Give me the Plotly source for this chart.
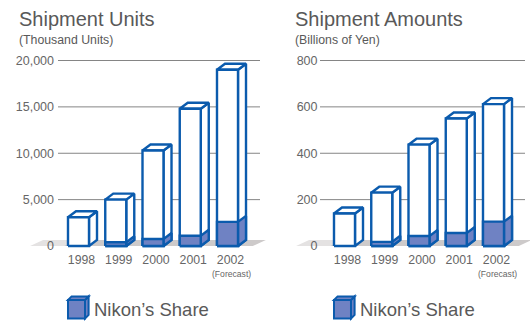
import plotly.graph_objects as go

# ---- data -------------------------------------------------------------
years = ["1998", "1999", "2000", "2001", "2002"]
units_total = [3100, 5000, 10300, 14800, 19000]      # thousand units
units_nikon = [0, 400, 750, 1100, 2600]
amounts_total = [140, 230, 437, 550, 612]             # billions of yen
amounts_nikon = [0, 18, 43, 56, 105]
units_ticks = [0, 5000, 10000, 15000, 20000]
amounts_ticks = [0, 200, 400, 600, 800]

# ---- style ------------------------------------------------------------
W, H = 530, 322
FONT = "Liberation Sans, Arial, sans-serif"
BLUE = "#0b5bad"
LAV = "#6f82c3"
WHITE = "#ffffff"
FLOOR = "#cdcaca"
FLOOR_LIGHT = "#e4e2e2"
GRID = "#858585"
TXT = "#595959"

HALF_W = 0.282          # half width of a bar's front face (category units)
DEPTH_X = 0.215         # horizontal depth of the 3D box (category units)
DEPTH_PX = 6            # vertical depth of the 3D box in pixels
FLOOR_X = (-1.30, 4.68)
FLOOR_SHIFT = 0.35

fig = go.Figure()


def poly(xs, ys, fill, xa, ya, line=True):
    fig.add_trace(go.Scatter(
        x=xs + [xs[0]], y=ys + [ys[0]], mode="lines", fill="toself",
        fillcolor=fill, xaxis=xa, yaxis=ya, hoverinfo="skip",
        line=dict(color=BLUE if line else fill, width=2.4 if line else 0),
        showlegend=False))


def draw_chart(xa, ya, totals, shares, dy):
    # floor slab, fading slightly toward its left end
    f0, f1 = FLOOR_X
    fm = f0 + 0.9
    poly([f0, fm, fm + FLOOR_SHIFT, f0 + FLOOR_SHIFT], [0, 0, dy, dy], FLOOR_LIGHT, xa, ya, line=False)
    poly([fm, f1, f1 + FLOOR_SHIFT, fm + FLOOR_SHIFT], [0, 0, dy, dy], FLOOR, xa, ya, line=False)
    for i, (t, s) in enumerate(zip(totals, shares)):
        x0, x1 = i - HALF_W, i + HALF_W
        poly([x1, x1 + DEPTH_X, x1 + DEPTH_X, x1], [0, dy, t + dy, t], WHITE, xa, ya)
        poly([x0, x1, x1 + DEPTH_X, x0 + DEPTH_X], [t, t, t + dy, t + dy], WHITE, xa, ya)
        poly([x0, x1, x1, x0], [0, 0, t, t], WHITE, xa, ya)
        if s > 0:
            poly([x1, x1 + DEPTH_X, x1 + DEPTH_X, x1], [0, dy, s + dy, s], LAV, xa, ya)
            poly([x0, x1, x1, x0], [0, 0, s, s], LAV, xa, ya)


# vertical scales: value 0 sits at y=246px, top tick at y=60.5px
def y_range(top_val):
    per_px = top_val / (246 - 60.5)
    return [-(H - 246) * per_px, 246 * per_px], per_px


yr1, pp1 = y_range(units_ticks[-1])
yr2, pp2 = y_range(amounts_ticks[-1])

draw_chart("x", "y", units_total, units_nikon, DEPTH_PX * pp1)
draw_chart("x2", "y2", amounts_total, amounts_nikon, DEPTH_PX * pp2)

SPACING = 37.25
x1_c0, x2_c0 = 78.5, 344.5
xr1 = [(0 - x1_c0) / SPACING, (268 - x1_c0) / SPACING]
xr2 = [(270 - x2_c0) / SPACING, (W - x2_c0) / SPACING]

tickfont = dict(family=FONT, size=12.5, color="#666666")
yearfont = dict(family=FONT, size=12.3, color="#666666")

common_x = dict(showgrid=False, zeroline=False, showline=False, ticks="",
                tickmode="array", tickvals=[i + 0.08 for i in range(len(years))],
                ticktext=years, tickfont=yearfont, anchor="free",
                position=1 - 251 / H, fixedrange=True)
common_y = dict(showgrid=False, zeroline=False, showline=False, ticks="",
                tickmode="array", anchor="free", tickfont=tickfont, fixedrange=True,
                domain=[0, 1])

fig.update_layout(
    width=W, height=H, margin=dict(l=0, r=0, t=0, b=0),
    paper_bgcolor="white", plot_bgcolor="rgba(0,0,0,0)",
    xaxis=dict(common_x, domain=[0, 268 / W], range=xr1),
    xaxis2=dict(common_x, domain=[270 / W, 1], range=xr2),
    yaxis=dict(common_y, range=yr1, tickvals=units_ticks,
               ticktext=[f"{v:,}" for v in units_ticks], position=54 / W),
    yaxis2=dict(common_y, range=yr2, tickvals=amounts_ticks,
                ticktext=[str(v) for v in amounts_ticks], position=317.5 / W),
    showlegend=False,
)

# gridlines (the zero line is covered by the floor, so skipped)
grid_spans = [("x", "y", units_ticks, (58 - x1_c0) / SPACING, (260 - x1_c0) / SPACING),
              ("x2", "y2", amounts_ticks, (320 - x2_c0) / SPACING, (525 - x2_c0) / SPACING)]
for xa, ya, ticks, g0, g1 in grid_spans:
    for v in ticks[1:]:
        fig.add_shape(type="line", xref=xa, yref=ya, x0=g0, x1=g1, y0=v, y1=v,
                      line=dict(color=GRID, width=1), layer="below")

# titles
for x_px, title, sub in [(17, "Shipment Units", "(Thousand Units)"),
                         (293, "Shipment Amounts", "(Billions of Yen)")]:
    fig.add_annotation(x=x_px / W, y=1 - 19 / H, xref="paper", yref="paper",
                       text=title, showarrow=False, xanchor="left", yanchor="middle",
                       font=dict(family=FONT, size=20, color=TXT))
    fig.add_annotation(x=x_px / W, y=1 - 40.5 / H, xref="paper", yref="paper",
                       text=sub, showarrow=False, xanchor="left", yanchor="middle",
                       font=dict(family=FONT, size=12.3, color=TXT))

# forecast note under 2002
for xa in ("x", "x2"):
    fig.add_annotation(x=4.1, y=1 - 274 / H, xref=xa, yref="paper",
                       text="(Forecast)", showarrow=False, xanchor="center",
                       yanchor="middle", font=dict(family=FONT, size=8.6, color="#666666"))


# legend: small cube + label
def px(x, y):
    return x / W, 1 - y / H


def path(points):
    pts = [px(*p) for p in points]
    return "M " + " L ".join(f"{a:.5f},{b:.5f}" for a, b in pts) + " Z"


for left in (68, 334):
    fx0, fx1, fy0, fy1, d = left, left + 17, 300, 318.5, 3.6
    for pts in ([(fx1, fy0), (fx1 + d, fy0 - d), (fx1 + d, fy1 - d), (fx1, fy1)],
                [(fx0, fy0), (fx1, fy0), (fx1 + d, fy0 - d), (fx0 + d, fy0 - d)],
                [(fx0, fy0), (fx1, fy0), (fx1, fy1), (fx0, fy1)]):
        fig.add_shape(type="path", xref="paper", yref="paper", path=path(pts),
                      fillcolor=LAV, line=dict(color=BLUE, width=2))
    fig.add_annotation(x=(left + 24) / W, y=1 - 309 / H, xref="paper", yref="paper",
                       text="Nikon’s Share", showarrow=False, xanchor="left",
                       yanchor="middle", font=dict(family=FONT, size=18.5, color=TXT))

fig.write_html("out.html")
